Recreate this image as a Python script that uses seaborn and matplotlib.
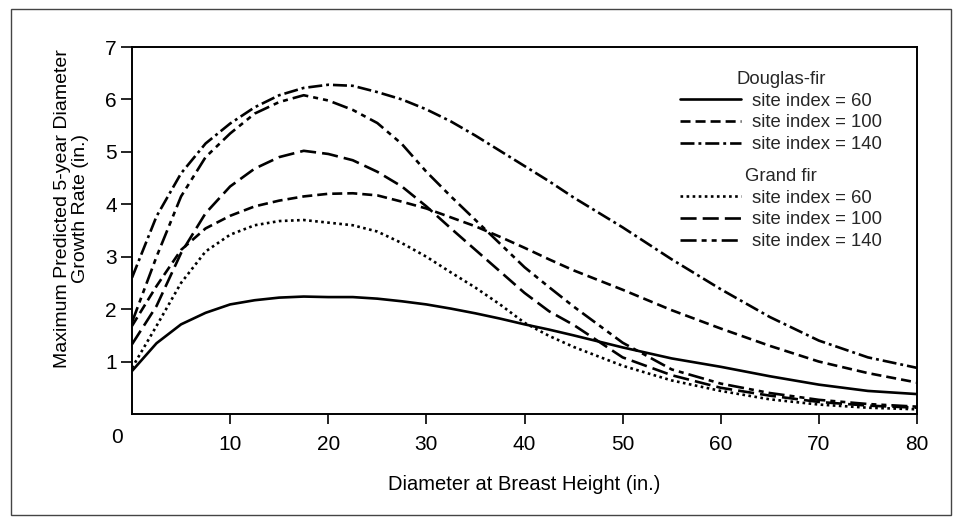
import matplotlib
matplotlib.use("Agg")
import matplotlib.pyplot as plt
import matplotlib.transforms as mtransforms
from matplotlib.lines import Line2D
from matplotlib.patches import Rectangle
import seaborn as sns
import pandas as pd

# ---- data ----
dbh = [0, 2.5, 5, 7.5, 10, 12.5, 15, 17.5, 20, 22.5, 25, 27.5, 30, 32.5, 35,
       37.5, 40, 42.5, 45, 50, 55, 60, 65, 70, 75, 80]

df_si60 = [0.82, 1.35, 1.71, 1.93, 2.09, 2.17, 2.22, 2.24, 2.23, 2.23, 2.20, 2.15, 2.09,
           2.01, 1.92, 1.82, 1.71, 1.61, 1.50, 1.27, 1.06, 0.90, 0.72, 0.56, 0.44, 0.38]
df_si100 = [1.68, 2.44, 3.13, 3.54, 3.78, 3.96, 4.07, 4.15, 4.20, 4.21, 4.17, 4.05, 3.92,
            3.75, 3.58, 3.38, 3.17, 2.95, 2.74, 2.37, 1.98, 1.63, 1.30, 1.00, 0.78, 0.60]
df_si140 = [2.60, 3.77, 4.59, 5.16, 5.54, 5.85, 6.08, 6.22, 6.28, 6.26, 6.14, 6.00, 5.81,
            5.58, 5.31, 5.02, 4.73, 4.44, 4.13, 3.56, 2.95, 2.38, 1.85, 1.40, 1.08, 0.88]
gf_si60 = [0.88, 1.68, 2.50, 3.10, 3.42, 3.60, 3.68, 3.70, 3.65, 3.60, 3.48, 3.26, 3.00,
           2.70, 2.41, 2.09, 1.74, 1.49, 1.28, 0.92, 0.64, 0.44, 0.28, 0.18, 0.12, 0.09]
gf_si100 = [1.33, 2.06, 3.07, 3.83, 4.34, 4.68, 4.90, 5.02, 4.96, 4.84, 4.62, 4.34, 3.96,
            3.54, 3.13, 2.72, 2.31, 1.96, 1.70, 1.08, 0.74, 0.50, 0.35, 0.23, 0.16, 0.12]
gf_si140 = [1.75, 3.00, 4.15, 4.90, 5.35, 5.73, 5.95, 6.08, 5.98, 5.80, 5.55, 5.15, 4.62,
            4.15, 3.70, 3.25, 2.80, 2.42, 2.05, 1.36, 0.85, 0.58, 0.40, 0.27, 0.19, 0.14]

species_groups = ["Douglas-fir", "Grand fir"]
entry_labels = ["site index = 60", "site index = 100", "site index = 140"]
x_ticks = [0, 10, 20, 30, 40, 50, 60, 70, 80]
y_ticks = [1, 2, 3, 4, 5, 6, 7]

series = [
    ("Douglas-fir", "site index = 60", df_si60),
    ("Douglas-fir", "site index = 100", df_si100),
    ("Douglas-fir", "site index = 140", df_si140),
    ("Grand fir", "site index = 60", gf_si60),
    ("Grand fir", "site index = 100", gf_si100),
    ("Grand fir", "site index = 140", gf_si140),
]

styles = {
    ("Douglas-fir", "site index = 60"): "-",
    ("Douglas-fir", "site index = 100"): (0, (3.8, 1.9)),
    ("Douglas-fir", "site index = 140"): (0, (5.3, 1.5, 1.1, 1.5)),
    ("Grand fir", "site index = 60"): (0, (1.0, 1.3)),
    ("Grand fir", "site index = 100"): (0, (6.1, 2.3)),
    ("Grand fir", "site index = 140"): (0, (6.1, 1.9, 1.9, 1.9, 1.9, 1.9)),
}
LW = 1.9

sns.set_theme(style="white")
plt.rcParams["font.family"] = ["Liberation Sans", "DejaVu Sans"]

fig = plt.figure(figsize=(9.61, 5.25), dpi=100)
ax = fig.add_axes([132 / 961, 1 - 414 / 525, (917 - 132) / 961, (414 - 47) / 525])

for sp, lab, vals in series:
    d = pd.DataFrame({"dbh": dbh, "growth": vals})
    sns.lineplot(data=d, x="dbh", y="growth", ax=ax, color="black",
                 linewidth=LW, linestyle=styles[(sp, lab)], legend=False)

ax.set_xlim(0, 80)
ax.set_ylim(0, 7)
ax.set_xticks(x_ticks)
ax.set_xticklabels([str(t) for t in x_ticks])
ax.set_yticks(y_ticks)
ax.set_yticklabels([str(t) for t in y_ticks])
for s in ax.spines.values():
    s.set_color("black")
    s.set_linewidth(1.4)
ax.tick_params(axis="x", direction="out", length=7, width=1.2, pad=8,
               labelsize=15, colors="black", bottom=True)
ax.tick_params(axis="y", direction="out", length=8, width=1.2, pad=3,
               labelsize=15, colors="black", left=True)
# shift the "0" label to the corner
lbl0 = ax.get_xticklabels()[0]
lbl0.set_transform(lbl0.get_transform() +
                   mtransforms.ScaledTranslation(-15 / 100, 7 / 100, fig.dpi_scale_trans))
ax.xaxis.get_major_ticks()[0].tick1line.set_visible(False)

ax.set_xlabel("Diameter at Breast Height (in.)", fontsize=14.5, color="black", labelpad=15)
ax.set_ylabel("Maximum Predicted 5-year Diameter\nGrowth Rate (in.)", fontsize=14,
              color="black", linespacing=1.1)
ax.yaxis.set_label_coords(-0.077, 0.56)
ax.yaxis.label.set_va("center")

# legends
def handles_for(sp):
    return [Line2D([0], [0], color="black", lw=LW, linestyle=styles[(sp, l)])
            for l in entry_labels]

kw = dict(frameon=False, fontsize=13.3, title_fontsize=13.3, handlelength=3.3,
          handletextpad=0.6, labelspacing=0.25, borderpad=0.0, loc="upper left")
leg1 = ax.legend(handles_for("Douglas-fir"), entry_labels, title="Douglas-fir",
                 bbox_to_anchor=((671 - 132) / 785, (414 - 62) / 367), **kw)
ax.add_artist(leg1)
leg2 = ax.legend(handles_for("Grand fir"), entry_labels, title="Grand fir",
                 bbox_to_anchor=((671 - 132) / 785, (414 - 159) / 367), **kw)

# outer frame
fig.patches.append(Rectangle((11 / 961, 1 - 515 / 525), 940 / 961, 506 / 525,
                             transform=fig.transFigure, fill=False,
                             edgecolor="#444444", linewidth=1.0))

fig.savefig("out.png", dpi=100)
